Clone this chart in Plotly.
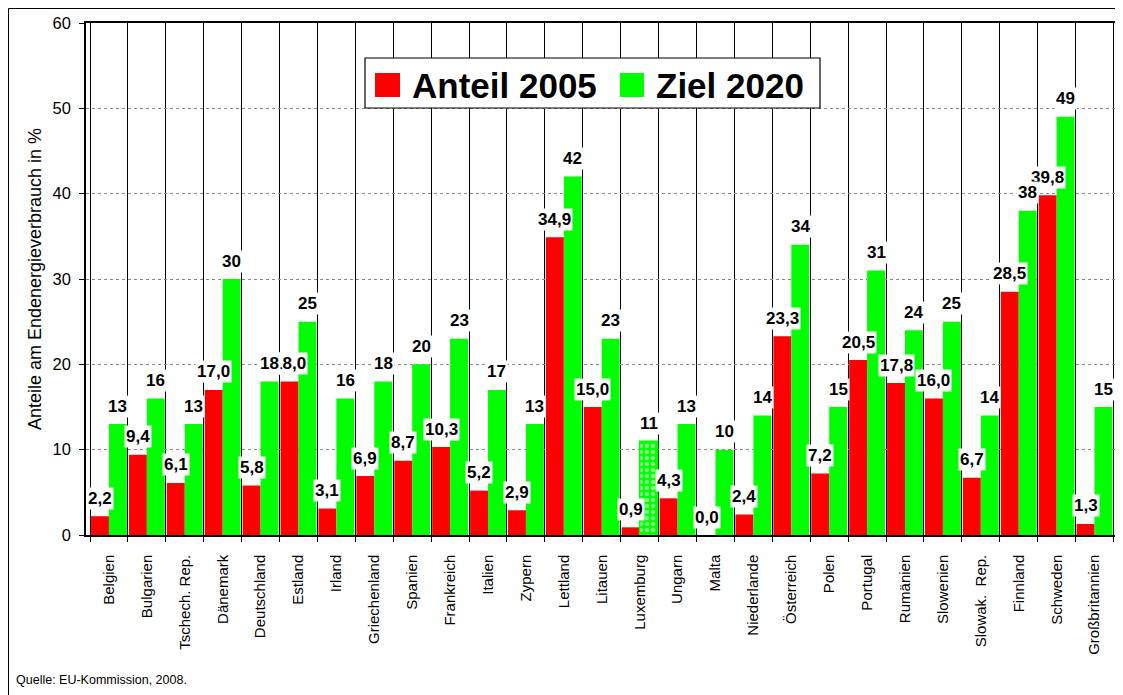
import plotly.graph_objects as go

countries = ["Belgien", "Bulgarien", "Tschech. Rep.", "Dänemark", "Deutschland", "Estland",
             "Irland", "Griechenland", "Spanien", "Frankreich", "Italien", "Zypern",
             "Lettland", "Litauen", "Luxemburg", "Ungarn", "Malta", "Niederlande",
             "Österreich", "Polen", "Portugal", "Rumänien", "Slowenien", "Slowak.  Rep.",
             "Finnland", "Schweden", "Großbritannien"]
anteil_2005 = [2.2, 9.4, 6.1, 17.0, 5.8, 18.0, 3.1, 6.9, 8.7, 10.3, 5.2, 2.9, 34.9, 15.0,
               0.9, 4.3, 0.0, 2.4, 23.3, 7.2, 20.5, 17.8, 16.0, 6.7, 28.5, 39.8, 1.3]
ziel_2020 = [13, 16, 13, 30, 18, 25, 16, 18, 20, 23, 17, 13, 42, 23, 11, 13, 10, 14, 34,
             15, 31, 24, 25, 14, 38, 49, 15]
y_ticks = [0, 10, 20, 30, 40, 50, 60]

FONT = "Liberation Sans, Arial, sans-serif"
RED = "#FF0000"
GREEN = "#00FF00"
BARGAP = 0.055

# Luxemburg target shown with a chequered pattern
patterned = ["Luxemburg"]
pat_shape = ["." if c in patterned else "" for c in countries]
line_w = [1.5 if c in patterned else 0 for c in countries]

fig = go.Figure()
fig.add_trace(go.Bar(x=countries, y=anteil_2005, name="Anteil 2005",
                     marker=dict(color=RED, line=dict(width=0)), showlegend=False))
fig.add_trace(go.Bar(x=countries, y=ziel_2020, name="Ziel 2020",
                     marker=dict(color=GREEN, line=dict(width=line_w, color=GREEN),
                                 pattern=dict(shape=pat_shape, fgcolor="white",
                                              size=6, solidity=0.45)),
                     showlegend=False))

off = (1 - BARGAP) / 4
annotations = []
for i, v in enumerate(anteil_2005):
    annotations.append(dict(x=i - off, y=v, xref="x", yref="y",
                            text=f"{v:.1f}".replace(".", ","), showarrow=False,
                            yanchor="middle", yshift=18, bgcolor="white", borderpad=1,
                            font=dict(family=FONT, size=17, color="black", weight="bold")))
for i, v in enumerate(ziel_2020):
    annotations.append(dict(x=i + off, y=v, xref="x", yref="y",
                            text=f"{v:d}", showarrow=False,
                            yanchor="middle", yshift=18, bgcolor="white", borderpad=1,
                            font=dict(family=FONT, size=17, color="black", weight="bold")))

# page offset of the figure (browser body margin)
OFF = 8
FIG_W, FIG_H = 1123 - OFF, 695 - OFF
# plot-area geometry in page pixels
L, R, T, B = 86, 1115, 23, 535
W, H = R - L, B - T
px = lambda x: (x - L) / W
py = lambda y: (B - y) / H

# custom legend
annotations.append(dict(x=px(410), y=py(85), xref="paper", yref="paper", text="Anteil 2005",
                        showarrow=False, xanchor="left", yanchor="middle",
                        font=dict(family=FONT, size=35, color="black", weight="bold")))
annotations.append(dict(x=px(654), y=py(85), xref="paper", yref="paper", text="Ziel 2020",
                        showarrow=False, xanchor="left", yanchor="middle",
                        font=dict(family=FONT, size=35, color="black", weight="bold")))
annotations.append(dict(x=px(14), y=py(680), xref="paper", yref="paper",
                        text="Quelle: EU-Kommission, 2008.", showarrow=False,
                        xanchor="left", yanchor="middle",
                        font=dict(family=FONT, size=12.5, color="black")))

shapes = [
    dict(type="rect", xref="paper", yref="paper", x0=px(365), x1=px(820), y0=py(108), y1=py(58),
         line=dict(color="black", width=1.2), fillcolor="white", layer="above"),
    dict(type="rect", xref="paper", yref="paper", x0=px(375), x1=px(400), y0=py(97), y1=py(73),
         line=dict(width=0), fillcolor=RED, layer="above"),
    dict(type="rect", xref="paper", yref="paper", x0=px(620), x1=px(644), y0=py(97), y1=py(73),
         line=dict(width=0), fillcolor=GREEN, layer="above"),
    dict(type="rect", xref="paper", yref="paper", x0=px(OFF + 0.5), x1=px(1140),
         y0=py(720), y1=py(OFF + 0.5),
         line=dict(color="black", width=1), fillcolor="rgba(0,0,0,0)", layer="below"),
]

fig.update_layout(
    width=FIG_W, height=FIG_H,
    margin=dict(l=L - OFF, r=1123 - R, t=T - OFF, b=695 - B, autoexpand=False),
    paper_bgcolor="white", plot_bgcolor="white",
    barmode="group", bargap=BARGAP, bargroupgap=0,
    showlegend=False,
    font=dict(family=FONT, color="black"),
    annotations=annotations, shapes=shapes,
)
fig.update_xaxes(type="category", tickson="boundaries", showgrid=True, gridcolor="black",
                 gridwidth=1, ticks="outside", ticklen=5, tickcolor="black", tickangle=-90,
                 tickfont=dict(family=FONT, size=15, color="black"), ticklabelstandoff=12,
                 showline=True, linecolor="black", linewidth=1.5, mirror=True,
                 automargin=False)
fig.update_yaxes(range=[0, 60], tickvals=y_ticks, showgrid=True, gridcolor="#888888",
                 griddash="dot", gridwidth=1, ticks="outside", ticklen=5, tickcolor="black",
                 tickfont=dict(family=FONT, size=16.5, color="black"), ticklabelstandoff=5,
                 showline=True, linecolor="black", linewidth=1.5, mirror=True, zeroline=False,
                 automargin=False,
                 title=dict(text="Anteile am Endenergieverbrauch in %", standoff=6,
                            font=dict(family=FONT, size=18, color="black")))

fig.write_html("out.html")
